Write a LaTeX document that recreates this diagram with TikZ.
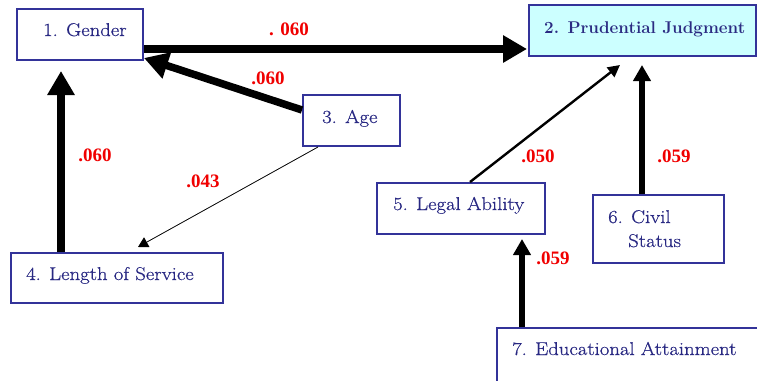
\documentclass[tikz,border=0pt]{standalone}
\usepackage{fontspec}
\newfontfamily\lblfont{Liberation Serif}
\newfontfamily\boxfont{Latin Modern Roman}[FakeStretch=1.12,FakeBold=0.6]
\usetikzlibrary{arrows.meta}
\definecolor{boxc}{RGB}{51,51,153}
\definecolor{txtc}{RGB}{40,40,130}
\definecolor{pjfill}{RGB}{204,255,255}
\definecolor{lblred}{RGB}{240,0,0}
\tikzset{
  box/.style={draw=boxc, line width=2pt, inner sep=0pt},
  txt/.style={anchor=base west, inner sep=0pt, text=txtc, font=\boxfont\fontsize{18.5}{22}\selectfont},
  lbl/.style={text=lblred, inner sep=0pt, font=\lblfont\bfseries\fontsize{19}{21}\selectfont},
  thick arr/.style={line width=7.5pt, -{Triangle[length=24pt,width=26pt]}},
  mid arr/.style={line width=6pt, -{Triangle[length=16pt,width=17pt]}},
  thin arr/.style={line width=2.4pt, -{Triangle[length=12pt,width=12pt]}},
  hair arr/.style={line width=0.8pt, -{Triangle[length=10pt,width=11pt]}},
}
\begin{document}
\begin{tikzpicture}[x=1pt,y=-1pt]
\useasboundingbox (0,0) rectangle (757,380);
% boxes
\node[box, minimum width=126pt, minimum height=51pt] (g) at (80,34.5) {};
\node[box, fill=pjfill, minimum width=227pt, minimum height=51pt] (pj) at (642.5,30.5) {};
\node[box, minimum width=97pt, minimum height=51pt] (age) at (351.5,120.5) {};
\node[box, minimum width=212pt, minimum height=50pt] (los) at (117,278) {};
\node[box, minimum width=168pt, minimum height=51pt] (la) at (461,208.5) {};
\node[box, minimum width=131pt, minimum height=68pt] (cs) at (658.5,229) {};
\node[box, minimum width=262pt, minimum height=54pt] (ed) at (628,355) {};
% texts
\node[txt] (tg) at (43,36) {1. Gender};
\node[txt, font=\bfseries\fontsize{17}{20}\selectfont, text=boxc!85!black] (tpj) at (544,33) {2. Prudential Judgment};
\node[txt] (tage) at (322,123) {3. Age};
\node[txt] (tlos) at (26,280) {4. Length of Service};
\node[txt] (tla) at (393,210) {5. Legal Ability};
\node[txt] (tcs1) at (608,223) {6. Civil};
\node[txt] (tcs2) at (628,247) {Status};
\node[txt] (ted) at (512,355) {7. Educational Attainment};
% connectors
\draw[thick arr] ([yshift=-14.5pt]g.east) -- ([yshift=-18.5pt,xshift=-1pt]pj.west);
\draw[thick arr] ([yshift=10.5pt]age.west) -- ([yshift=3pt]g.south east);
\draw[thick arr] ([xshift=-56pt]los.north) -- ([xshift=-19pt,yshift=-10pt]g.south);
\draw[hair arr] ([xshift=-33.5pt]age.south) -- ([xshift=21pt,yshift=5pt]los.north);
\draw[thin arr] ([xshift=9pt]la.north) -- ([xshift=-22.5pt,yshift=-8pt]pj.south);
\draw[mid arr] ([xshift=-16.5pt]cs.north) -- ([xshift=-0.5pt,yshift=-8pt]pj.south);
\draw[mid arr] ([xshift=-106pt]ed.north) -- ([xshift=61pt,yshift=-4pt]la.south);
% labels
\node[lbl] (l1) at (289,29) {. 060};
\node[lbl] (l2) at (268,78) {.060};
\node[lbl] (l3) at (95,155) {.060};
\node[lbl] (l4) at (203,181) {.043};
\node[lbl] (l5) at (538,156) {.050};
\node[lbl] (l6) at (674,156) {.059};
\node[lbl] (l7) at (553,258) {.059};
\end{tikzpicture}
\end{document}
